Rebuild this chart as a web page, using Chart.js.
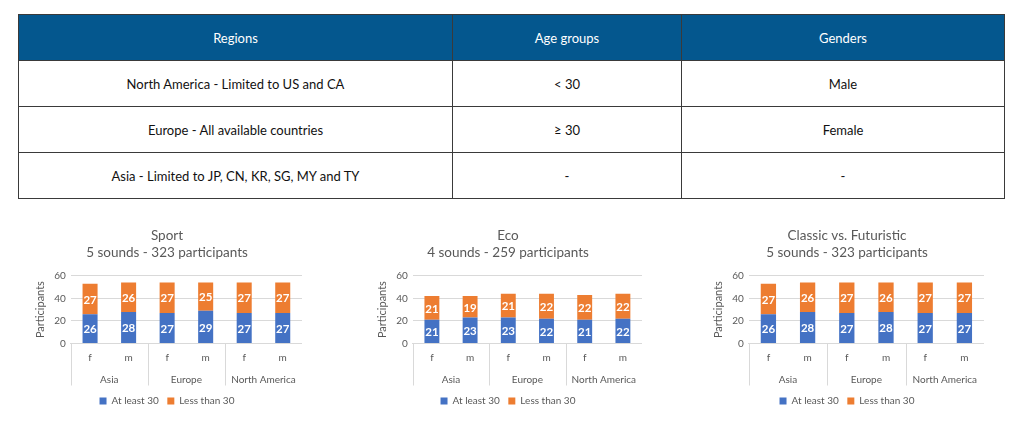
<!DOCTYPE html>
<html>
<head>
<meta charset="utf-8">
<script src="https://cdn.jsdelivr.net/npm/chart.js@4.4.0/dist/chart.umd.min.js"></script>
<style>
  html, body { margin: 0; padding: 0; background: #fff; }
  body { width: 1024px; height: 422px; position: relative; overflow: hidden; font-family: Lato, 'Open Sans', sans-serif; }
  table.info {
    position: absolute; left: 18px; top: 14px; width: 987px; height: 183px;
    border-collapse: collapse; font-size: 13px; color: #111;
  }
  table.info th, table.info td { border: 1.5px solid #3a3a3a; text-align: center; padding: 0; }
  table.info th { background: #04578e; color: #fff; font-weight: normal; height: 45px; }
  table.info td { height: 45px; }
  .chart-box { position: absolute; top: 224px; height: 192px; }
</style>
</head>
<body>
<table class="info">
  <thead>
    <tr><th style="width:433px">Regions</th><th style="width:228px">Age groups</th><th>Genders</th></tr>
  </thead>
  <tbody id="info-body"></tbody>
</table>

<div class="chart-box" style="left:24px;width:278px"><canvas id="chart-sport"></canvas></div>
<div class="chart-box" style="left:366px;width:276px"><canvas id="chart-eco"></canvas></div>
<div class="chart-box" style="left:702px;width:282px"><canvas id="chart-classic"></canvas></div>

<script>
const tableRegions = ['North America - Limited to US and CA', 'Europe - All available countries', 'Asia - Limited to JP, CN, KR, SG, MY and TY'];
const tableAges = ['< 30', '≥ 30', '-'];
const tableGenders = ['Male', 'Female', '-'];

const genders = ['f', 'm', 'f', 'm', 'f', 'm'];
const regions = ['Asia', 'Europe', 'North America'];
const seriesNames = ['At least 30', 'Less than 30'];
const yTicks = [0, 20, 40, 60];

const sportTitle = ['Sport', '5 sounds - 323 participants'];
const sportAtLeast = [26, 28, 27, 29, 27, 27];
const sportLess = [27, 26, 27, 25, 27, 27];

const ecoTitle = ['Eco', '4 sounds - 259 participants'];
const ecoAtLeast = [21, 23, 23, 22, 21, 22];
const ecoLess = [21, 19, 21, 22, 22, 22];

const classicTitle = ['Classic vs. Futuristic', '5 sounds - 323 participants'];
const classicAtLeast = [26, 28, 27, 28, 27, 27];
const classicLess = [27, 26, 27, 26, 27, 27];

const BLUE = '#4472c4';
const ORANGE = '#ed7d31';
const GRID = '#d9d9d9';
const TEXT = '#595959';
const FONT = "Lato, 'Open Sans', sans-serif";

// table rows
const body = document.getElementById('info-body');
tableRegions.forEach((region, i) => {
  const row = document.createElement('tr');
  row.innerHTML = `<td>${region}</td><td>${tableAges[i]}</td><td>${tableGenders[i]}</td>`;
  body.appendChild(row);
});

// white numbers in the middle of each segment
const segmentLabels = {
  id: 'segmentLabels',
  afterDatasetsDraw(chart) {
    const { ctx } = chart;
    ctx.save();
    ctx.fillStyle = '#fff';
    ctx.font = `bold 11.5px ${FONT}`;
    ctx.textAlign = 'center';
    ctx.textBaseline = 'middle';
    chart.data.datasets.forEach((ds, di) => {
      chart.getDatasetMeta(di).data.forEach((bar, i) => {
        ctx.fillText(String(ds.data[i]), bar.x, (bar.y + bar.base) / 2 + 1);
      });
    });
    ctx.restore();
  }
};

// vertical lines between the region groups under the axis
const groupLines = {
  id: 'groupLines',
  afterDraw(chart) {
    const x = chart.scales.x;
    const area = chart.chartArea;
    const perGroup = genders.length / regions.length;
    const { ctx } = chart;
    ctx.save();
    ctx.strokeStyle = GRID;
    ctx.lineWidth = 1;
    for (let g = 0; g <= regions.length; g++) {
      const px = Math.round(x.left + (x.width * g * perGroup) / genders.length) + 0.5;
      ctx.beginPath();
      ctx.moveTo(px, area.bottom);
      ctx.lineTo(px, area.bottom + 42);
      ctx.stroke();
    }
    ctx.restore();
  }
};

function buildChart(id, title, atLeast, less) {
  return new Chart(document.getElementById(id), {
    type: 'bar',
    data: {
      labels: genders,
      datasets: [
        { label: seriesNames[0], data: atLeast, backgroundColor: BLUE, barPercentage: 0.78, categoryPercentage: 0.5 },
        { label: seriesNames[1], data: less, backgroundColor: ORANGE, barPercentage: 0.78, categoryPercentage: 0.5 }
      ]
    },
    options: {
      responsive: true,
      maintainAspectRatio: false,
      animation: false,
      layout: { padding: { left: 8, right: 0, top: 0, bottom: 0 } },
      plugins: {
        title: {
          display: true,
          text: title,
          color: TEXT,
          font: { family: FONT, size: 13.5, weight: 'normal', lineHeight: 1.25 },
          padding: { top: 3, bottom: 15 }
        },
        legend: {
          position: 'bottom',
          labels: {
            color: TEXT,
            font: { family: FONT, size: 10 },
            boxWidth: 7,
            boxHeight: 7,
            padding: 8.5
          }
        },
        tooltip: { enabled: false }
      },
      scales: {
        x: {
          stacked: true,
          grid: { display: false, drawTicks: false },
          border: { color: GRID },
          ticks: { color: TEXT, font: { family: FONT, size: 10 }, padding: 8 }
        },
        x2: {
          type: 'category',
          position: 'bottom',
          labels: regions,
          offset: true,
          grid: { display: false, drawTicks: false },
          border: { display: false },
          ticks: { color: TEXT, font: { family: FONT, size: 10 }, padding: 2 }
        },
        y: {
          stacked: true,
          min: yTicks[0],
          max: yTicks[yTicks.length - 1],
          afterBuildTicks: (axis) => { axis.ticks = yTicks.map((v) => ({ value: v })); },
          grid: { color: GRID, drawTicks: false },
          border: { display: false },
          ticks: { color: TEXT, font: { family: FONT, size: 10 }, padding: 5 },
          title: { display: true, text: 'Participants', color: TEXT, font: { family: FONT, size: 11 }, padding: 2 }
        }
      }
    },
    plugins: [segmentLabels, groupLines]
  });
}

buildChart('chart-sport', sportTitle, sportAtLeast, sportLess);
buildChart('chart-eco', ecoTitle, ecoAtLeast, ecoLess);
buildChart('chart-classic', classicTitle, classicAtLeast, classicLess);
</script>
</body>
</html>
